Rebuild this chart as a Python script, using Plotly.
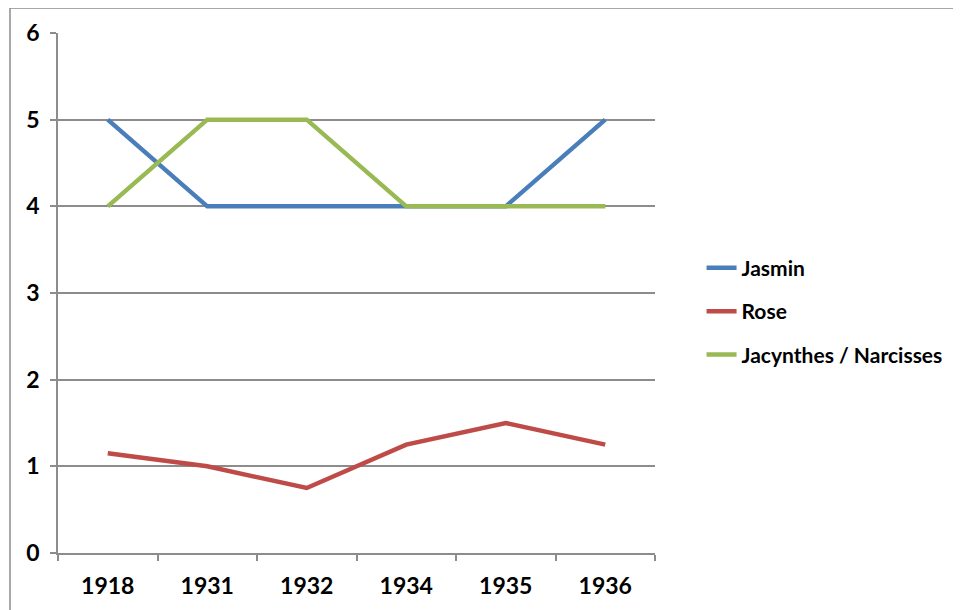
import plotly.graph_objects as go

years = ["1918", "1931", "1932", "1934", "1935", "1936"]
jasmin = [5, 4, 4, 4, 4, 5]
rose = [1.15, 1.0, 0.75, 1.25, 1.5, 1.25]
jacynthes = [4, 5, 5, 4, 4, 4]

series = [
    ("Jasmin", jasmin, "#4A7EBB"),
    ("Rose", rose, "#BE4B48"),
    ("Jacynthes / Narcisses", jacynthes, "#98B954"),
]

fam = "Lato, 'Liberation Sans', sans-serif"

fig = go.Figure()
for name, vals, col in series:
    fig.add_trace(go.Scatter(x=years, y=vals, name=name, mode="lines",
                             line=dict(color=col, width=4.5), legendgroup=name))

fig.update_layout(
    width=961, height=610,
    margin=dict(l=50, r=314, t=25, b=65),
    paper_bgcolor="white", plot_bgcolor="white",
    font=dict(family=fam, size=20, color="#000000"),
    showlegend=True,
    legend=dict(x=1.078, y=0.465, xanchor="left", yanchor="middle",
                tracegroupgap=13, font=dict(size=21, family=fam, weight="bold", color="#000000")),
    xaxis=dict(type="category", range=[-0.5, 5.5], automargin=False, showgrid=False,
               showline=True, linecolor="#8c8c8c", linewidth=1.5,
               ticks="outside", tickson="boundaries", ticklen=6, tickcolor="#8c8c8c", tickwidth=1.5,
               tickfont=dict(size=23, weight="bold", family=fam, color="#000000"), ticklabelstandoff=12),
    yaxis=dict(range=[0, 6], dtick=1, automargin=False, showgrid=True, gridcolor="#8c8c8c", gridwidth=1.5,
               showline=True, linecolor="#8c8c8c", linewidth=1.5, zeroline=False,
               ticks="outside", ticklen=6, tickcolor="#8c8c8c", tickwidth=1.5,
               tickfont=dict(size=23, weight="bold", family=fam, color="#000000"), ticklabelstandoff=6),
    shapes=[dict(type="rect", xref="paper", yref="paper", x0=-0.0804, x1=2, y0=-0.3, y1=1.048,
                 line=dict(color="#8c8c8c", width=1.5), layer="below")],
)

fig.write_html("out.html")
